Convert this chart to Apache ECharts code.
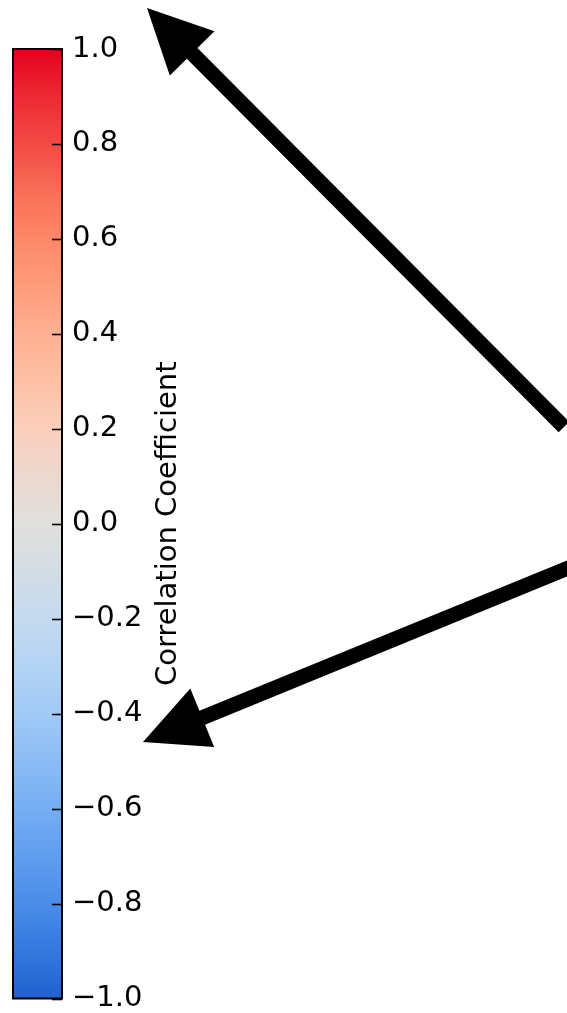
<!DOCTYPE html>
<html>
<head>
<meta charset="utf-8">
<title>Correlation Coefficient</title>
<script src="https://cdn.jsdelivr.net/npm/echarts@6/dist/echarts.min.js"></script>
<style>
  html, body { margin: 0; padding: 0; background: #ffffff; }
  #chart { width: 567px; height: 1013px; }
</style>
</head>
<body>
<div id="chart"></div>
<script>
// Colour scale range and tick positions
const scaleRange = [-1.0, 1.0];
const tickValues = [-1.0, -0.8, -0.6, -0.4, -0.2, 0.0, 0.2, 0.4, 0.6, 0.8, 1.0];
const tickLabels = ['\u22121.0', '\u22120.8', '\u22120.6', '\u22120.4', '\u22120.2', '0.0', '0.2', '0.4', '0.6', '0.8', '1.0'];

// Diverging colour map, from -1 (bottom) to +1 (top)
const cmapValues = [-1.0, -0.9, -0.8, -0.7, -0.6, -0.5, -0.4, -0.3, -0.2, -0.1, 0.0,
                    0.1, 0.2, 0.3, 0.4, 0.5, 0.6, 0.7, 0.8, 0.9, 1.0];
const cmapColors = ['#1f62d0', '#3478de', '#4a8ce8', '#5f9def', '#75aef3', '#8bbcf5', '#a0c9f6', '#b3d3f4', '#c4daef', '#d3dde6', '#e0e0dc',
                    '#ecd8cf', '#fbcfbc', '#fec0a5', '#ffb092', '#fe9c7b', '#fd8869', '#f96e57', '#f24a44', '#ec2a33', '#e5001e'];

// Annotation arrows: tail and tip in page pixels
const arrows = [
  { tail: [564, 427], tip: [147, 8] },
  { tail: [600, 555], tip: [143, 742] }
];
const shaftWidth = 15, headLength = 64, headHalfWidth = 31.5;

function arrowPoints(a) {
  const dx = a.tip[0] - a.tail[0], dy = a.tip[1] - a.tail[1];
  const len = Math.hypot(dx, dy);
  const ux = dx / len, uy = dy / len;          // along the arrow
  const nx = -uy, ny = ux;                      // perpendicular
  const bx = a.tip[0] - ux * headLength, by = a.tip[1] - uy * headLength;
  const hw = shaftWidth / 2;
  return [
    [a.tail[0] + nx * hw, a.tail[1] + ny * hw],
    [bx + nx * hw, by + ny * hw],
    [bx + nx * headHalfWidth, by + ny * headHalfWidth],
    a.tip,
    [bx - nx * headHalfWidth, by - ny * headHalfWidth],
    [bx - nx * hw, by - ny * hw],
    [a.tail[0] - nx * hw, a.tail[1] - ny * hw]
  ];
}

const span = scaleRange[1] - scaleRange[0];
const gradientStops = cmapValues.map((v, i) => ({
  offset: (scaleRange[1] - v) / span,   // top of the bar = +1
  color: cmapColors[i]
}));

const tickLength = 10;
const FONT = 'DejaVu Sans';

const chart = echarts.init(document.getElementById('chart'), null, { renderer: 'canvas' });

chart.setOption({
  backgroundColor: '#ffffff',
  animation: false,
  grid: { left: 13, top: 49, width: 49, height: 953, containLabel: false },
  xAxis: { type: 'value', min: 0, max: 1, show: false },
  yAxis: {
    type: 'value',
    position: 'right',
    min: scaleRange[0],
    max: scaleRange[1],
    interval: 0.2,
    splitLine: { show: false },
    axisLine: { show: false },
    axisTick: { show: false },
    axisLabel: {
      margin: 10,
      fontFamily: FONT,
      fontSize: 29,
      color: '#000',
      formatter: function (v) {
        const idx = tickValues.findIndex(t => Math.abs(t - v) < 1e-6);
        return idx >= 0 ? tickLabels[idx] : '';
      }
    },
    name: 'Correlation Coefficient',
    nameLocation: 'middle',
    nameRotate: 90,
    nameGap: 92,
    nameTextStyle: { fontFamily: FONT, fontSize: 29, color: '#000' }
  },
  series: [{
    type: 'custom',
    data: [[0, scaleRange[0], scaleRange[1]]],
    encode: { x: 0, y: [1, 2] },
    renderItem: function (params, api) {
      const cs = params.coordSys;
      const top = api.coord([0, api.value(2)]);
      const bottom = api.coord([0, api.value(1)]);
      const right = cs.x + cs.width;
      // colour bar body
      const children = [{
        type: 'rect',
        shape: { x: cs.x, y: top[1], width: cs.width, height: bottom[1] - top[1] },
        style: { fill: new echarts.graphic.LinearGradient(0, 0, 0, 1, gradientStops) }
      }];
      // inward tick marks on the right edge
      tickValues.forEach(t => {
        const y = Math.round(api.coord([0, t])[1]) + 0.5;
        children.push({
          type: 'line',
          shape: { x1: right - tickLength, y1: y, x2: right, y2: y },
          style: { stroke: '#000', lineWidth: 1.6 }
        });
      });
      // outline
      children.push({
        type: 'rect',
        shape: { x: cs.x, y: top[1], width: cs.width, height: bottom[1] - top[1] },
        style: { fill: null, stroke: '#000', lineWidth: 2 }
      });
      return { type: 'group', children: children };
    }
  }],
  graphic: arrows.map(a => ({
    type: 'polygon',
    z: 20,
    shape: { points: arrowPoints(a) },
    style: { fill: '#000' }
  }))
});
</script>
</body>
</html>
